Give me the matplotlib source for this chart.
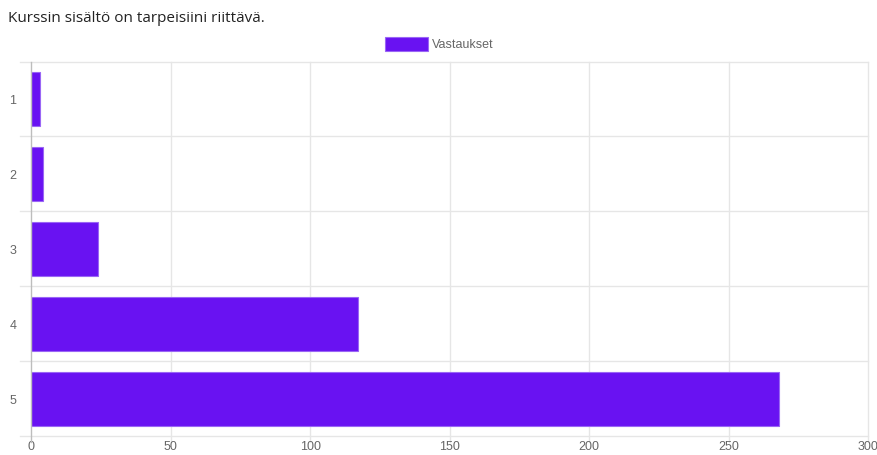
import matplotlib.pyplot as plt
from matplotlib.patches import Rectangle

categories = ["1", "2", "3", "4", "5"]
values = [3, 4, 24, 117, 268]
series_name = "Vastaukset"
title = "Kurssin sisältö on tarpeisiini riittävä."
x_ticks = [0, 50, 100, 150, 200, 250, 300]

W, H = 878, 456
fig = plt.figure(figsize=(W / 100, H / 100), dpi=100)
ax = fig.add_axes([31.5 / W, (H - 437) / H, (868 - 31.5) / W, (437 - 62.5) / H])

bar_color = "#6912f2"
ypos = list(range(len(categories)))
ax.barh(ypos, values, height=0.72, color=bar_color, edgecolor="#9a66f5", linewidth=0.8, zorder=3)

ax.set_xlim(0, 300)
ax.set_ylim(len(categories) - 0.5, -0.5)
ax.set_xticks(x_ticks)
ax.set_xticklabels([str(t) for t in x_ticks])
ax.set_yticks(ypos)
ax.set_yticklabels(categories)

# grid lines at category boundaries
for b in [i - 0.5 for i in range(len(categories) + 1)]:
    ax.plot([-11 / 2.788, 300], [b, b], color="#e6e6e6", lw=1, clip_on=False, zorder=1)
for t in x_ticks[1:]:
    ax.plot([t, t], [-0.5, 4.5 + 6 / 75], color="#e6e6e6", lw=1, clip_on=False, zorder=1)
ax.plot([0, 0], [-0.5, 4.5 + 6 / 75], color="#bdbdbd", lw=1, clip_on=False, zorder=4)

for s in ax.spines.values():
    s.set_visible(False)
ax.tick_params(axis="both", length=0, colors="#666666", labelsize=9)
for lab in ax.get_xticklabels() + ax.get_yticklabels():
    lab.set_fontfamily("Liberation Sans")
ax.tick_params(axis="x", pad=3)
ax.tick_params(axis="y", pad=11)

fig.text(8 / W, 1 - 18 / H, title, fontsize=11, family="Open Sans", color="#222222", va="center", ha="left")

# legend
fig.patches.append(Rectangle((385 / W, 1 - 52 / H), 43 / W, 14 / H, transform=fig.transFigure,
                             facecolor=bar_color, edgecolor="#9a66f5", linewidth=0.8))
fig.text(432 / W, 1 - 45 / H, series_name, fontsize=9, family="Liberation Sans", color="#666666",
         va="center", ha="left")

fig.savefig("out.png", dpi=100, facecolor="white")
